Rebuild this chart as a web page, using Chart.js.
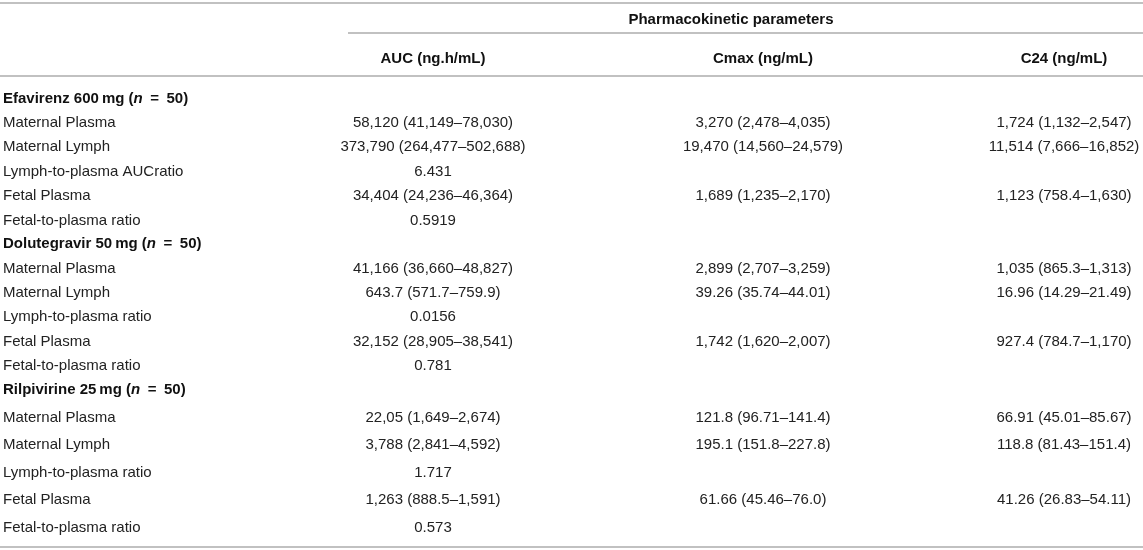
<!DOCTYPE html>
<html>
<head>
<meta charset="utf-8">
<script src="https://cdn.jsdelivr.net/npm/chart.js@4/dist/chart.umd.min.js"></script>
<style>
  html, body { margin: 0; padding: 0; background: #fff; }
  #wrap { width: 1143px; height: 550px; }
</style>
</head>
<body>
<div id="wrap"><canvas id="table"></canvas></div>
<script>
// table text
const spanTitle = "Pharmacokinetic parameters";
const columnTitles = ["AUC (ng.h/mL)", "Cmax (ng/mL)", "C24 (ng/mL)"];
const drugs = ["Efavirenz 600\u2009mg", "Dolutegravir 50\u2009mg", "Rilpivirine 25\u2009mg"];
const drugN = [50, 50, 50];

const efavirenzRows = ["Maternal Plasma", "Maternal Lymph", "Lymph-to-plasma AUCratio", "Fetal Plasma", "Fetal-to-plasma ratio"];
const efavirenzAuc = ["58,120 (41,149–78,030)", "373,790 (264,477–502,688)", "6.431", "34,404 (24,236–46,364)", "0.5919"];
const efavirenzCmax = ["3,270 (2,478–4,035)", "19,470 (14,560–24,579)", null, "1,689 (1,235–2,170)", null];
const efavirenzC24 = ["1,724 (1,132–2,547)", "11,514 (7,666–16,852)", null, "1,123 (758.4–1,630)", null];

const dolutegravirRows = ["Maternal Plasma", "Maternal Lymph", "Lymph-to-plasma ratio", "Fetal Plasma", "Fetal-to-plasma ratio"];
const dolutegravirAuc = ["41,166 (36,660–48,827)", "643.7 (571.7–759.9)", "0.0156", "32,152 (28,905–38,541)", "0.781"];
const dolutegravirCmax = ["2,899 (2,707–3,259)", "39.26 (35.74–44.01)", null, "1,742 (1,620–2,007)", null];
const dolutegravirC24 = ["1,035 (865.3–1,313)", "16.96 (14.29–21.49)", null, "927.4 (784.7–1,170)", null];

const rilpivirineRows = ["Maternal Plasma", "Maternal Lymph", "Lymph-to-plasma ratio", "Fetal Plasma", "Fetal-to-plasma ratio"];
const rilpivirineAuc = ["22,05 (1,649–2,674)", "3,788 (2,841–4,592)", "1.717", "1,263 (888.5–1,591)", "0.573"];
const rilpivirineCmax = ["121.8 (96.71–141.4)", "195.1 (151.8–227.8)", null, "61.66 (45.46–76.0)", null];
const rilpivirineC24 = ["66.91 (45.01–85.67)", "118.8 (81.43–151.4)", null, "41.26 (26.83–54.11)", null];

// layout (in canvas units, the scales run 0..1143 and 0..550)
const colX = { label: 3, auc: 433, cmax: 763, c24: 1064, span: 731 };
const spanY = 19.5, headY = 58.5;
const groupY = [98.5, 244, 390];
const rowStep = [24.4, 24.4, 27.5];
const rules = [
  { y: 3, from: 0, to: 1143 },
  { y: 33, from: 348, to: 1143 },
  { y: 76, from: 0, to: 1143 },
  { y: 547, from: 0, to: 1143 },
];

const groupRows = [efavirenzRows, dolutegravirRows, rilpivirineRows];
const groupAuc = [efavirenzAuc, dolutegravirAuc, rilpivirineAuc];
const groupCmax = [efavirenzCmax, dolutegravirCmax, rilpivirineCmax];
const groupC24 = [efavirenzC24, dolutegravirC24, rilpivirineC24];

function cellDataset(colKey, source, align) {
  const data = [], texts = [];
  source.forEach((vals, g) => {
    vals.forEach((v, r) => {
      data.push({ x: colX[colKey], y: groupY[g] + rowStep[g] * (r + 1) });
      texts.push(v);
    });
  });
  return { data, texts, align, kind: "cell", pointRadius: 0 };
}

const headerDataset = {
  data: [{ x: colX.span, y: spanY }, { x: colX.auc, y: headY }, { x: colX.cmax, y: headY }, { x: colX.c24, y: headY }],
  texts: [spanTitle].concat(columnTitles),
  align: "center", kind: "head", pointRadius: 0,
};
const groupDataset = {
  data: groupY.map(gy => ({ x: colX.label, y: gy })),
  texts: drugs, align: "left", kind: "group", pointRadius: 0,
};

const FONT = '"Liberation Sans", Arial, Helvetica, sans-serif';

const tablePlugin = {
  id: "tableText",
  beforeDatasetsDraw(chart) {
    const { ctx, scales: { x, y } } = chart;
    ctx.save();
    ctx.strokeStyle = "#acacac";
    ctx.lineWidth = 1.6;
    rules.forEach(r => {
      const py = y.getPixelForValue(r.y);
      ctx.beginPath();
      ctx.moveTo(x.getPixelForValue(r.from), py);
      ctx.lineTo(x.getPixelForValue(r.to), py);
      ctx.stroke();
    });
    ctx.restore();
  },
  afterDatasetsDraw(chart) {
    const ctx = chart.ctx;
    ctx.save();
    ctx.textBaseline = "middle";
    chart.data.datasets.forEach((ds, i) => {
      const meta = chart.getDatasetMeta(i);
      meta.data.forEach((pt, j) => {
        const text = ds.texts[j];
        if (!text) return;
        if (ds.kind === "group") {
          // bold label with italic n
          const parts = [
            [text + " (", "bold 15px " + FONT],
            ["n", "italic bold 15px " + FONT],
            ["\u2002=\u2002" + drugN[j] + ")", "bold 15px " + FONT],
          ];
          let px = pt.x;
          ctx.fillStyle = "#111";
          ctx.textAlign = "left";
          parts.forEach(([s, f]) => {
            ctx.font = f;
            ctx.fillText(s, px, pt.y);
            px += ctx.measureText(s).width;
          });
          return;
        }
        ctx.font = (ds.kind === "head" ? "bold " : "") + "15px " + FONT;
        ctx.fillStyle = ds.kind === "head" ? "#111" : "#222";
        ctx.textAlign = ds.align;
        ctx.fillText(text, pt.x, pt.y);
      });
    });
    ctx.restore();
  },
};

new Chart(document.getElementById("table"), {
  type: "scatter",
  data: {
    datasets: [
      headerDataset,
      groupDataset,
      cellDataset("label", groupRows, "left"),
      cellDataset("auc", groupAuc, "center"),
      cellDataset("cmax", groupCmax, "center"),
      cellDataset("c24", groupC24, "center"),
    ],
  },
  options: {
    responsive: true,
    maintainAspectRatio: false,
    animation: false,
    events: [],
    layout: { padding: 0 },
    scales: {
      x: { type: "linear", min: 0, max: 1143, display: false },
      y: { type: "linear", min: 0, max: 550, reverse: true, display: false },
    },
    plugins: {
      legend: { display: false },
      tooltip: { enabled: false },
    },
  },
  plugins: [tablePlugin],
});
</script>
</body>
</html>
